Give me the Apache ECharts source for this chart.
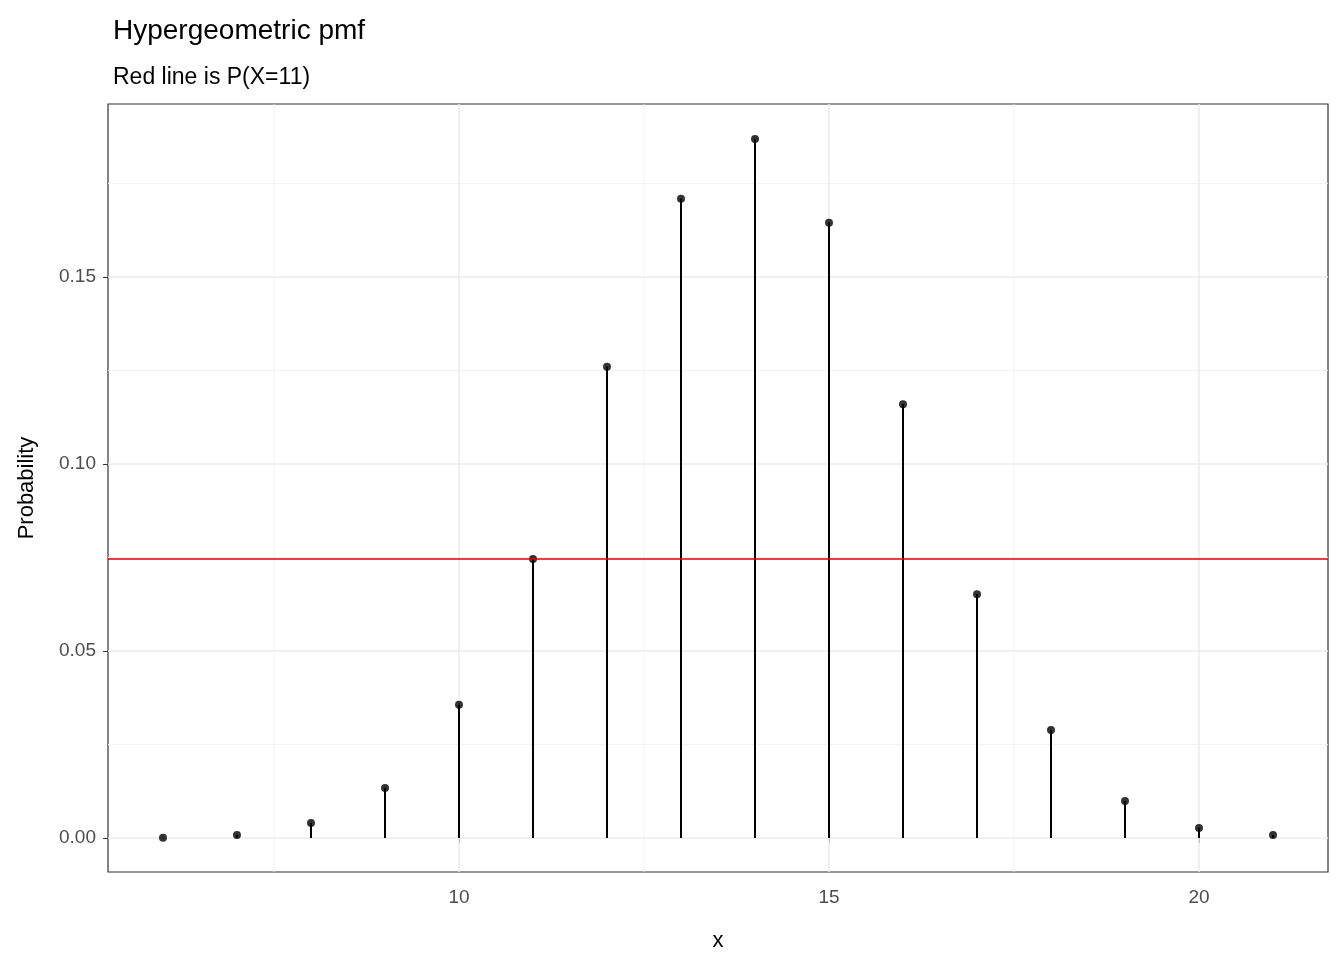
<!DOCTYPE html>
<html><head><meta charset="utf-8">
<script src="https://cdn.jsdelivr.net/npm/echarts@6/dist/echarts.min.js"></script>
<style>html,body{margin:0;padding:0;background:#fff}#c{width:1344px;height:960px}</style>
</head><body><div id="c"></div>
<script>
const xs = [6,7,8,9,10,11,12,13,14,15,16,17,18,19,20,21];
const probs = [0.0001,0.0008,0.004,0.0134,0.0356,0.0746,0.126,0.1709,0.1869,0.1645,0.116,0.0652,0.0289,0.0099,0.0027,0.0008];
const xTicks = [10,15,20];
const yTicks = [0,0.05,0.10,0.15];
const xMinor = [7.5,12.5,17.5];
const yMinor = [0.025,0.075,0.125,0.175];
const refValue = probs[xs.indexOf(11)];
const XMIN = 5.257, XMAX = 21.743, YMIN = -0.00909, YMAX = 0.19626;
const pts = xs.map((x,i)=>[x,probs[i]]);
const gl = (d, color, w, z) => ({type:'line',data:d,symbol:'none',silent:true,z:z||1,lineStyle:{color,width:w},animation:false});
const grids = [
  ...xMinor.map(v=>gl([[v,YMIN],[v,YMAX]],'#f2f2f2',1)),
  ...yMinor.map(v=>gl([[XMIN,v],[XMAX,v]],'#f2f2f2',1)),
  ...xTicks.map(v=>gl([[v,YMIN],[v,YMAX]],'#ebebeb',1.5)),
  ...yTicks.map(v=>gl([[XMIN,v],[XMAX,v]],'#ebebeb',1.5))
];
const chart = echarts.init(document.getElementById('c'));
chart.setOption({
  animation:false,
  title:[{text:'Hypergeometric pmf',left:108,top:12,textStyle:{fontFamily:'Liberation Sans',fontSize:28,fontWeight:'normal',color:'#000'}},
         {text:'Red line is P(X=11)',left:108,top:61,textStyle:{fontFamily:'Liberation Sans',fontSize:23,fontWeight:'normal',color:'#000'}}],
  grid:{left:108,right:16,top:104,bottom:88,show:true,borderColor:'#333',borderWidth:1.2},
  xAxis:{type:'value',min:XMIN,max:XMAX,name:'x',nameLocation:'middle',nameGap:58,
    nameTextStyle:{fontFamily:'Liberation Sans',fontSize:22,color:'#000'},
    axisLine:{show:false},splitLine:{show:false},
    axisTick:{show:true,customValues:xTicks,length:5,inside:false,lineStyle:{color:'#333'}},
    axisLabel:{customValues:xTicks,fontFamily:'Liberation Sans',fontSize:19,color:'#4d4d4d',margin:16}},
  yAxis:{type:'value',min:YMIN,max:YMAX,name:'Probability',nameLocation:'middle',nameGap:70,
    nameTextStyle:{fontFamily:'Liberation Sans',fontSize:22,color:'#000'},
    axisLine:{show:false},splitLine:{show:false},
    axisTick:{show:true,customValues:yTicks,length:5,lineStyle:{color:'#333'}},
    axisLabel:{customValues:yTicks,formatter:v=>v.toFixed(2),fontFamily:'Liberation Sans',fontSize:19,color:'#4d4d4d',margin:12}},
  series:[
    ...grids,
    {type:'bar',data:pts,barWidth:2,itemStyle:{color:'#000'},z:3},
    {type:'scatter',data:pts,symbolSize:8,itemStyle:{color:'#000'},z:4},
    gl([[XMIN,refValue],[XMAX,refValue]],'#e00000',1.5,5)
  ]
});
</script></body></html>
